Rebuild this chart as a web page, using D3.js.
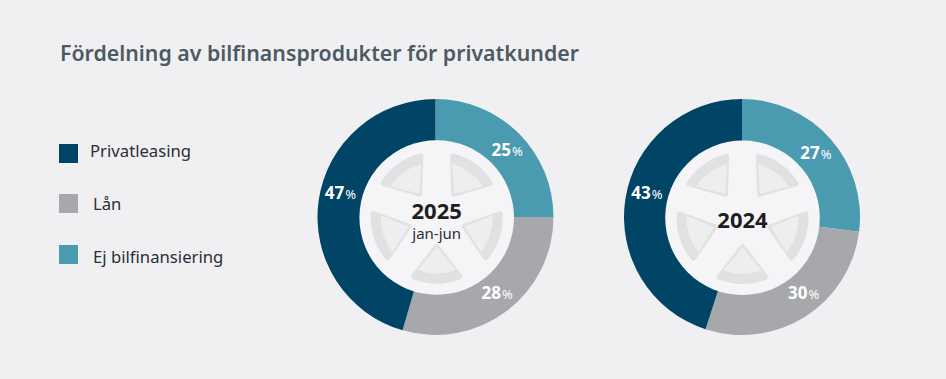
<!DOCTYPE html>
<html>
<head>
<meta charset="utf-8">
<script src="https://cdn.jsdelivr.net/npm/d3@7"></script>
<style>
  html, body { margin: 0; padding: 0; background: #f0f0f3; overflow: hidden; }
  text { font-family: "Noto Sans", "Open Sans", sans-serif; }
</style>
</head>
<body>
<script>
const categories = ["Ej bilfinansiering", "Lån", "Privatleasing"];
const legendOrder = ["Privatleasing", "Lån", "Ej bilfinansiering"];
const colors = ["#4a9ab0", "#a7a8ab", "#004565"];

// printed percentages
const labels2025 = [25, 28, 47];
const labels2024 = [27, 30, 43];
// slice sizes as measured in the picture, they differ a bit from the printed numbers
const shares2025 = [25, 29.5, 45.5];
const shares2024 = [27, 28, 45];

const width = 946, height = 379;
const outerR = 118, hubR = 77.3, labelR = 98;

const svg = d3.select("body").append("svg")
    .attr("width", width)
    .attr("height", height);

svg.append("text")
    .attr("x", 60)
    .attr("y", 61)
    .attr("font-size", 21.3)
    .attr("font-weight", 600)
    .attr("fill", "#4d5a64")
    .text("Fördelning av bilfinansprodukter för privatkunder");

const color = d3.scaleOrdinal(categories, colors);

// legend
const legendY = [144, 194, 245];
const legendTextX = [90, 93, 93];
const legendTextY = [157, 210, 263];
legendOrder.forEach((name, i) => {
    svg.append("rect")
        .attr("x", 59).attr("y", legendY[i])
        .attr("width", 19).attr("height", 19)
        .attr("fill", color(name));
    svg.append("text")
        .attr("x", legendTextX[i])
        .attr("y", legendTextY[i])
        .attr("font-size", 16.7)
        .attr("fill", "#2b2e35")
        .text(name);
});

const pie = d3.pie().sort(null);
const arc = d3.arc().innerRadius(70).outerRadius(outerR);

// one spoke hole of the wheel, pointing down from the hub
function spoke(apexR, rimR, halfAngle) {
    const a = halfAngle * Math.PI / 180;
    const p = d3.path();
    p.moveTo(0, apexR);
    p.lineTo(rimR * Math.sin(a), rimR * Math.cos(a));
    p.arc(0, 0, rimR, Math.PI / 2 - a, Math.PI / 2 + a);
    p.closePath();
    return p.toString();
}

function donut(cx, cy, shares, printed, year, sub, yearY, labelAngles, hubDx, hubDy) {
    const g = svg.append("g").attr("transform", `translate(${cx},${cy})`);

    g.selectAll("path.slice")
        .data(pie(shares))
        .enter().append("path")
        .attr("class", "slice")
        .attr("d", arc)
        .attr("fill", (d, i) => colors[i]);

    const hub = g.append("g").attr("transform", `translate(${hubDx},${hubDy})`);
    hub.append("circle").attr("r", hubR).attr("fill", "#f5f5f8");

    d3.range(5).forEach(i => {
        const s = hub.append("g").attr("transform", `rotate(${i * 72})`);
        s.append("path")
            .attr("d", spoke(29, 63.5, 21.5))
            .attr("fill", "#e0e1e3")
            .attr("stroke", "#e0e1e3")
            .attr("stroke-width", 5)
            .attr("stroke-linejoin", "round");
        s.append("path")
            .attr("d", spoke(29.5, 56, 20))
            .attr("fill", "#edeef0");
    });

    printed.forEach((v, i) => {
        const a = labelAngles[i] * Math.PI / 180;
        const t = g.append("text")
            .attr("x", labelR * Math.sin(a))
            .attr("y", -labelR * Math.cos(a) + 6)
            .attr("text-anchor", "middle")
            .attr("fill", "#fff");
        t.append("tspan").attr("font-size", 17).attr("font-weight", 700).text(v);
        t.append("tspan").attr("font-size", 13).attr("dx", 1).text("%");
    });

    hub.append("text")
        .attr("y", yearY)
        .attr("text-anchor", "middle")
        .attr("font-size", 22)
        .attr("font-weight", 700)
        .attr("fill", "#1f1d20")
        .text(year);

    if (sub) {
        hub.append("text")
            .attr("y", 21.5)
            .attr("text-anchor", "middle")
            .attr("font-size", 15)
            .attr("fill", "#2b2e35")
            .text(sub);
    }
}

donut(435.5, 217, shares2025, labels2025, "2025", "jan-jun", 1, [47, 141, 284], 1.2, 0.5);
donut(742, 217, shares2024, labels2024, "2024", null, 10, [49, 141, 284], 0.5, 0.8);
</script>
</body>
</html>
